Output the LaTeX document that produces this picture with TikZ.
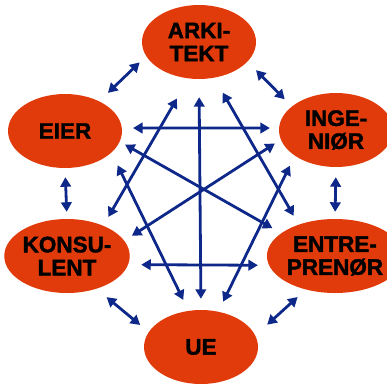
\documentclass[tikz,border=0pt]{standalone}
\usepackage{fontspec}
\setmainfont{Liberation Sans}[BoldFeatures={FakeBold=1.6}]
\usetikzlibrary{arrows.meta,shapes.geometric}
\definecolor{rod}{RGB}{226,59,11}
\definecolor{marine}{RGB}{14,40,138}

\begin{document}
\begin{tikzpicture}[x=1pt,y=-1pt,
  link/.style={draw=marine, line width=2.8pt, {Triangle[length=9.5pt,width=10.5pt]}-{Triangle[length=9.5pt,width=10.5pt]}}]
\useasboundingbox (0,0) rectangle (387,383);
\begin{scope}[every node/.style={ellipse, fill=rod, minimum width=114pt, minimum height=74pt, inner sep=0pt, align=center, font=\fontsize{22.5}{23}\selectfont\bfseries}]
\node (arkitekt) at (199,42) {ARKI-\\TEKT};
\node (ingenior) at (336,130) {INGE-\\NIØR};
\node (entreprenor) at (335,256) {ENTRE-\\PRENØR};
\node (ue) at (201,347) {UE};
\node (konsulent) at (67,256) {KONSU-\\LENT};
\node (eier) at (65,131) {EIER};
\end{scope}
% ring
\draw[link, shorten <=9pt, shorten >=12pt] (arkitekt.195) -- (eier.41);
\draw[link, shorten <=12pt, shorten >=10pt] (arkitekt.338) -- (ingenior.152);
\draw[link, shorten <=9pt, shorten >=7pt] (eier.south) -- (konsulent.north);
\draw[link, shorten <=10pt, shorten >=7pt] (ingenior.south) -- (entreprenor.north);
\draw[link, shorten <=13pt, shorten >=11pt] (konsulent.312) -- (ue.164);
\draw[link, shorten <=11pt, shorten >=16pt] (entreprenor.229) -- (ue.12);
% across
\draw[link, shorten <=11pt, shorten >=9pt] (eier.3) -- (ingenior.178);
\draw[link, shorten <=13pt, shorten >=11pt] (konsulent.352) -- (entreprenor.188);
\draw[link, shorten <=18pt, shorten >=11pt] (arkitekt.south) -- (ue.north);
\draw[link, shorten <=6pt, shorten >=10pt] (eier.349) -- (entreprenor.157);
\draw[link, shorten <=9pt, shorten >=7pt] (konsulent.15) -- (ingenior.190);
\draw[link, shorten <=23pt, shorten >=10pt] (arkitekt.254) -- (konsulent.40);
\draw[link, shorten <=17pt, shorten >=10pt] (arkitekt.293) -- (entreprenor.139);
\draw[link, shorten <=14pt, shorten >=12pt] (eier.335) -- (ue.109);
\draw[link, shorten <=11pt, shorten >=11pt] (ingenior.212) -- (ue.64);
\end{tikzpicture}
\end{document}
